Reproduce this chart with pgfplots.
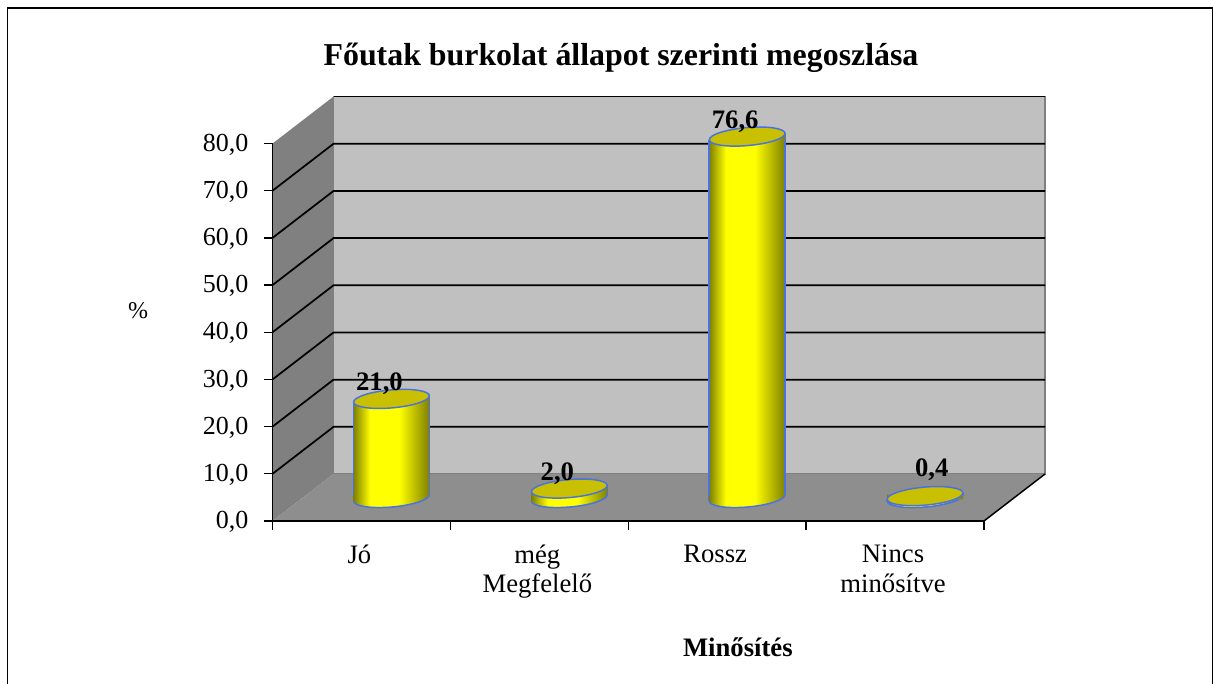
\documentclass[border=0pt]{standalone}
\usepackage{fontspec}
\setmainfont{Liberation Serif}
\usepackage{pgfplots}
\usepackage{pgfplotstable}
\pgfplotsset{compat=1.18}

% 1 px of the reference = 0.75pt here
\definecolor{wallback}{HTML}{C0C0C0}
\definecolor{wallside}{HTML}{808080}
\definecolor{floorgray}{HTML}{8E8E8E}
\definecolor{edgeblue}{HTML}{4A72E0}
\definecolor{capyellow}{HTML}{C8C000}

% the path is fitted to the middle 25bp..75bp of the shading
\pgfdeclarehorizontalshading{cyl}{100bp}{
  color(0bp)=(black!50!yellow);
  color(25bp)=(black!50!yellow);
  color(36bp)=(yellow);
  color(55bp)=(yellow);
  color(75bp)=(black!50!yellow);
  color(100bp)=(black!50!yellow)}

% ends of the cylinder, tilted by 5 degrees like the reference
\newcommand\tiltA{\pgfqpoint{28.39pt}{2.48pt}}
\newcommand\tiltB{\pgfqpoint{-0.59pt}{6.72pt}}
\pgfdeclareplotmark{cylbase}{
  \pgfpathellipse{\pgfpointorigin}{\tiltA}{\tiltB}
  \pgfshadepath{cyl}{0}\pgfusepath{discard}
  \shade[shading=cyl,draw=none] (-28.5pt,-2.48pt) -- (28.5pt,2.48pt) -- (-28.5pt,2.48pt) -- cycle;
  \pgfsetstrokecolor{edgeblue}\pgfsetlinewidth{1.1pt}
  \pgfpathmoveto{\pgfqpoint{-28.39pt}{-2.48pt}}
  \pgfpatharcaxes{180}{360}{\tiltA}{\tiltB}
  \pgfusepath{stroke}
}
\pgfdeclareplotmark{cylcap}{
  \shade[shading=cyl,draw=none] (-28.5pt,-2.48pt) -- (28.5pt,-2.48pt) -- (28.5pt,2.48pt) -- cycle;
}
\pgfdeclareplotmark{cyltop}{
  \pgfsetstrokecolor{edgeblue}\pgfsetfillcolor{capyellow}\pgfsetlinewidth{1.1pt}
  \pgfpathellipse{\pgfpointorigin}{\tiltA}{\tiltB}
  \pgfusepath{fill,stroke}
}

\pgfplotstableread{
x   v
0.5 21.0
1.5 2.0
2.5 76.6
3.5 0.4
}\datatable

\begin{document}
\begin{tikzpicture}
  \useasboundingbox (0,0) rectangle (909.75pt,513pt);
  \draw[black,line width=1pt] (5.4pt,-5pt) -- (5.4pt,507pt) -- (909.2pt,507pt) -- (909.2pt,-5pt);
  \begin{axis}[
      at={(204.4pt,122.25pt)},
      anchor=south west,
      scale only axis,
      width=533.6pt,
      height=283.1pt,
      xmin=0, xmax=4,
      ymin=0, ymax=80,
      clip=false,
      axis on top,
      axis x line*=bottom,
      axis y line*=left,
      axis line style={black,line width=1.3pt,-},
      tick style={black,line width=1pt},
      tick align=outside,
      major tick length=6.5pt,
      xtick={0,1,2,3,4},
      xticklabels={Jó,{még\\Megfelelő},Rossz,{Nincs\\minősítve}},
      x tick label as interval,
      xticklabel style={font=\fontsize{20}{22}\selectfont,align=center,xshift=-1.5pt,yshift=-8pt},
      ytick={0,10,...,80},
      yticklabel style={font=\fontsize{19.5}{21}\selectfont,xshift=-8pt,yshift=-0.75pt},
      /pgf/number format/.cd,fixed,fixed zerofill,precision=1,use comma,assume math mode=true,
      /pgfplots/.cd,
      title={Főutak burkolat állapot szerinti megoszlása},
      title style={at={(axis description cs:0.4898,1.1865)},anchor=base,
        font=\fontsize{23.9}{26}\selectfont\bfseries},
      xlabel={Minősítés},
      xlabel style={at={(axis description cs:0.654,-0.36)},anchor=base,
        font=\fontsize{20}{22}\selectfont\bfseries},
      ylabel={\%},
      ylabel style={at={(axis description cs:-0.189,0.556)},anchor=center,rotate=-90,
        font=\fontsize{18}{21}\selectfont},
    ]
    % walls and floor
    \addplot[fill=wallback,draw=wallside,line width=0.8pt] coordinates {(0.343,9.96) (4.343,9.96) (4.343,89.96) (0.343,89.96)} --cycle;
    \addplot[fill=wallside,draw=none] coordinates {(0,0) (0.343,9.96) (0.343,89.96) (0,80)} --cycle;
    \addplot[fill=floorgray,draw=none] coordinates {(0,0) (4,0) (4.343,9.96) (0.343,9.96)} --cycle;
    \addplot[black,line width=1.1pt] coordinates {(4,0) (4.343,9.96)};
    % grid lines
    \addplot[black,line width=1.3pt] coordinates {(0,10) (0.343,19.96) (4.343,19.96)};
    \addplot[black,line width=1.3pt] coordinates {(0,20) (0.343,29.96) (4.343,29.96)};
    \addplot[black,line width=1.3pt] coordinates {(0,30) (0.343,39.96) (4.343,39.96)};
    \addplot[black,line width=1.3pt] coordinates {(0,40) (0.343,49.96) (4.343,49.96)};
    \addplot[black,line width=1.3pt] coordinates {(0,50) (0.343,59.96) (4.343,59.96)};
    \addplot[black,line width=1.3pt] coordinates {(0,60) (0.343,69.96) (4.343,69.96)};
    \addplot[black,line width=1.3pt] coordinates {(0,70) (0.343,79.96) (4.343,79.96)};
    \addplot[black,line width=1.3pt] coordinates {(0.343,89.96) (4.343,89.96)};
    % cylinders
    \addplot[only marks,mark=cylbase,xshift=22.5pt,yshift=17.25pt] table[x=x,y=v,y expr=0] {\datatable};
    % one plot per bar, or the shading spans all of them
    \pgfplotsinvokeforeach{0,1,2}{
      \addplot[ybar,bar width=57pt,bar shift=0pt,shade,shading=cyl,draw=none,
        restrict x to domain=#1:#1.9,xshift=22.5pt,yshift=19.73pt]
        table[x=x,y expr=\thisrow{v}-1.4] {\datatable};
    }
    \addplot[only marks,mark=cylcap,xshift=22.5pt,yshift=17.25pt] table[x=x,y=v] {\datatable};
    \addplot[ycomb,edgeblue,line width=1.1pt,mark=none,xshift=-6pt,yshift=14.77pt] table[x=x,y=v] {\datatable};
    \addplot[ycomb,edgeblue,line width=1.1pt,mark=none,xshift=51pt,yshift=19.73pt] table[x=x,y=v] {\datatable};
    \addplot[only marks,mark=cyltop,xshift=22.5pt,yshift=17.25pt] table[x=x,y=v] {\datatable};
    % value labels
    \addplot[draw=none,mark=none,xshift=22.5pt,yshift=17.25pt,
      restrict y to domain=1:100,
      point meta=y,nodes near coords,
      every node near coord/.style={anchor=base,xshift=-9pt,yshift=6pt,text=black,
        font=\fontsize{20}{21}\selectfont\bfseries}]
      table[x=x,y=v] {\datatable};
    \addplot[draw=none,mark=none,xshift=22.5pt,yshift=17.25pt,
      restrict y to domain=0:1,
      point meta=y,nodes near coords,
      every node near coord/.style={anchor=base,xshift=5pt,yshift=15pt,text=black,
        font=\fontsize{20}{21}\selectfont\bfseries}]
      table[x=x,y=v] {\datatable};
  \end{axis}
\end{tikzpicture}
\end{document}
